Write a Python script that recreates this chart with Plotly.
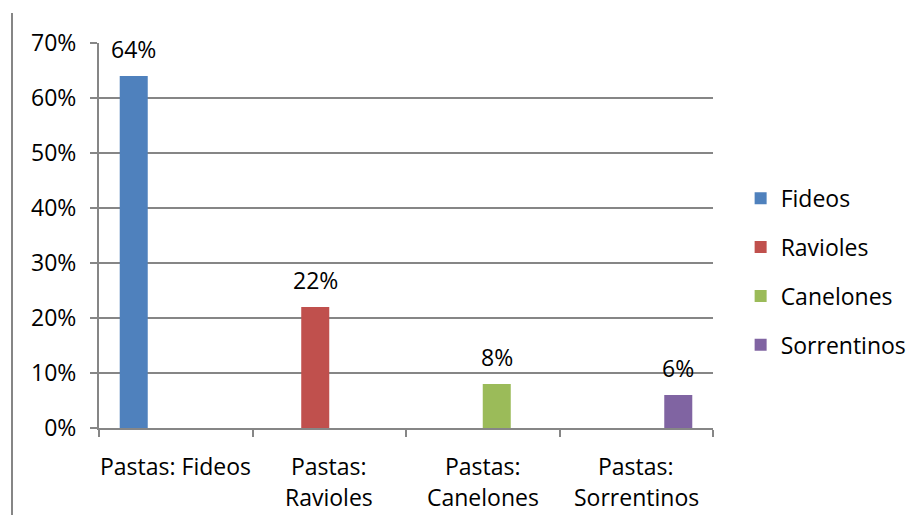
import plotly.graph_objects as go

# Survey results: share of each pasta type
categories = ["Pastas: Fideos", "Pastas:<br>Ravioles", "Pastas:<br>Canelones", "Pastas:<br>Sorrentinos"]
series_names = ["Fideos", "Ravioles", "Canelones", "Sorrentinos"]
values = [0.64, 0.22, 0.08, 0.06]
colors = ["#4F81BD", "#C0504D", "#9BBB59", "#8064A2"]
y_ticks = [0, 0.1, 0.2, 0.3, 0.4, 0.5, 0.6, 0.7]

FONT = "Open Sans, Calibri, sans-serif"
GRID = "#868686"
FS = 23

fig = go.Figure()
for i, (name, val, col) in enumerate(zip(series_names, values, colors)):
    ys = [val if j == i else None for j in range(len(categories))]
    fig.add_trace(go.Bar(
        x=categories, y=ys, name=name,
        marker=dict(color=col, line=dict(width=0)),
        legendgroup=name, offsetgroup=str(i),
    ))

# Value labels above each bar, positioned in its own slot of the group
n = len(series_names)
gap = 0.27
slot = (1 - gap) / n
for i, val in enumerate(values):
    xc = i - (1 - gap) / 2 + slot * (i + 0.5)
    fig.add_annotation(
        x=xc, y=val, xref="x", yref="y",
        text=f"{round(val * 100)}%", showarrow=False,
        yanchor="bottom", yshift=9,
        font=dict(family=FONT, size=FS, color="#000000"),
    )

# Category labels drawn line by line below the axis
for i, cat in enumerate(categories):
    for k, line in enumerate(cat.split("<br>")):
        fig.add_annotation(
            x=i, y=0, xref="x", yref="y", text=line, showarrow=False,
            yanchor="middle", yshift=-38 - 31 * k,
            font=dict(family=FONT, size=FS, color="#000000"),
        )

# Left border line of the chart frame
fig.add_shape(type="line", xref="paper", yref="paper",
              x0=-0.1417, x1=-0.1417, y0=1.078, y1=-0.3,
              line=dict(color=GRID, width=2))

fig.update_layout(
    width=922, height=515,
    margin=dict(l=99, r=209, t=43, b=87, autoexpand=False),
    paper_bgcolor="white", plot_bgcolor="white",
    barmode="group", bargap=gap, bargroupgap=0,
    font=dict(family=FONT, size=FS, color="#000000"),
    showlegend=True,
    legend=dict(x=1.045, y=0.406, xanchor="left", yanchor="middle",
                font=dict(family=FONT, size=FS), tracegroupgap=16,
                itemwidth=30),
)
fig.update_xaxes(
    type="category", categoryorder="array", categoryarray=categories,
    tickson="boundaries", ticks="outside", ticklen=7, tickwidth=2, tickcolor=GRID,
    showline=True, linecolor=GRID, linewidth=2, showgrid=False,
    showticklabels=False, range=[-0.5, 3.5],
)
fig.update_yaxes(
    range=[0, 0.7], tickvals=y_ticks, tickformat=".0%",
    ticks="outside", ticklen=7, tickwidth=2, tickcolor=GRID,
    showline=True, linecolor=GRID, linewidth=2,
    showgrid=True, gridcolor=GRID, gridwidth=2, zeroline=False,
    tickfont=dict(family=FONT, size=FS), ticklabelstandoff=9,
)

fig.write_html("out.html")
